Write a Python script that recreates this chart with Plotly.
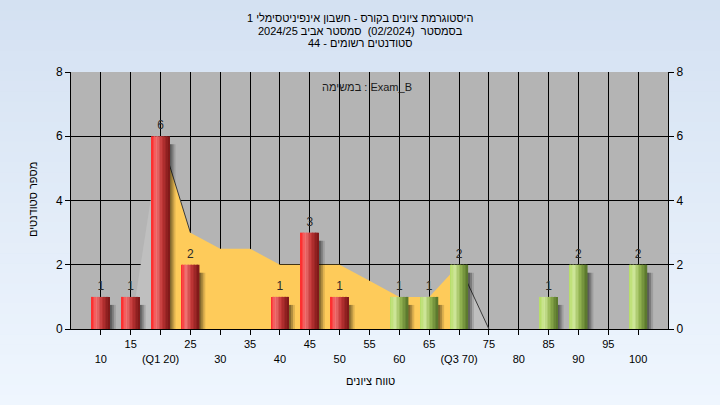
import plotly.graph_objects as go

# ---------------- data ----------------
scores = [10, 15, 20, 25, 30, 35, 40, 45, 50, 55, 60, 65, 70, 75, 80, 85, 90, 95, 100]
counts = [1, 1, 6, 2, 0, 0, 1, 3, 1, 0, 1, 1, 2, 0, 0, 1, 2, 0, 2]
curve = [0, 0, 6, 3, 2.5, 2.5, 2, 2, 2, 1.5, 1, 1, 2, 0, 0, 0, 0, 0, 0]
tick_labels = ["10", "15", "(Q1 20)", "25", "30", "35", "40", "45", "50", "55",
               "60", "65", "(Q3 70)", "75", "80", "85", "90", "95", "100"]
pass_mark = 55

title_lines = [
    "היסטוגרמת ציונים בקורס - חשבון אינפיניטסימלי 1",
    "בסמסטר  (02/2024)  סמסטר אביב 2024/25",
    "סטודנטים רשומים - 44",
]
task_label = "במשימה : Exam_B"
x_title = "טווח ציונים"
y_title = "מספר סטודנטים"

FONT = "Liberation Sans, Arial, DejaVu Sans, sans-serif"

# ---------------- helpers ----------------
def hex2rgb(h):
    h = h.lstrip("#")
    return tuple(int(h[i:i + 2], 16) for i in (0, 2, 4))

def grad(stops, f):
    for (f0, c0), (f1, c1) in zip(stops[:-1], stops[1:]):
        if f0 <= f <= f1:
            t = (f - f0) / (f1 - f0) if f1 > f0 else 0
            a, b = hex2rgb(c0), hex2rgb(c1)
            return "rgb(%d,%d,%d)" % tuple(round(a[k] + (b[k] - a[k]) * t) for k in range(3))
    return stops[-1][1]

red_stops = [(0, "#ff2424"), (0.28, "#f07272"), (0.6, "#c03636"), (1, "#7a1616")]
green_stops = [(0, "#b4dc62"), (0.28, "#cfe79a"), (0.6, "#93b451"), (1, "#56732a")]

fig = go.Figure()

# ---------------- area (distribution curve) on the base y axis ----------------
fig.add_trace(go.Scatter(x=scores[1:3], y=curve[1:3], mode="lines", fill="tozeroy",
                         fillcolor="#bfbfbf", line=dict(width=0), hoverinfo="skip"))
fig.add_trace(go.Scatter(x=scores[12:14], y=curve[12:14], mode="lines", fill="tozeroy",
                         fillcolor="#bfbfbf", line=dict(width=0), hoverinfo="skip"))
fig.add_trace(go.Scatter(x=scores[2:13], y=curve[2:13], mode="lines", fill="tozeroy",
                         fillcolor="#fecb5a", line=dict(width=0), hoverinfo="skip"))
fig.add_trace(go.Scatter(x=scores[2:4], y=curve[2:4], mode="lines",
                         line=dict(color="#3a3a3a", width=1), hoverinfo="skip"))
fig.add_trace(go.Scatter(x=scores[12:14], y=curve[12:14], mode="lines",
                         line=dict(color="#3a3a3a", width=1), hoverinfo="skip"))

# ---------------- bars on the overlaying (right) axis, drawn above the area ----------------
W = 3.0          # bar width in score units
N = 12           # gradient slices
unit_px = 597 / 100.0

shadow_y = [max(v - 0.25, 0) for v in counts]
for off_px, alpha in [(6, 0.12), (4, 0.22), (2, 0.25)]:
    fig.add_trace(go.Bar(x=scores, y=shadow_y, width=W, offset=-W / 2 + off_px / unit_px,
                         yaxis="y2",
                         marker=dict(color="rgba(0,0,0,%.2f)" % alpha, line=dict(width=0)),
                         hoverinfo="skip"))

for i in range(N):
    f = (i + 0.5) / N
    cols = [grad(green_stops if s >= pass_mark else red_stops, f) for s in scores]
    fig.add_trace(go.Bar(x=scores, y=counts, width=W / N + 0.02, offset=-W / 2 + i * W / N,
                         yaxis="y2",
                         marker=dict(color=cols, line=dict(width=0)), hoverinfo="skip"))

# bar value labels
lab_x = [s for s, c in zip(scores, counts) if c > 0]
lab_y = [c for c in counts if c > 0]
fig.add_trace(go.Scatter(x=lab_x, y=lab_y, mode="markers+text", text=[str(c) for c in lab_y],
                         textposition="top center", yaxis="y2",
                         marker=dict(size=5, opacity=0),
                         textfont=dict(family=FONT, size=12, color="#2a2a2a"),
                         hoverinfo="skip"))

# ---------------- background ----------------
shapes = []
top_c, bot_c = "#d4e1f2", "#eff6fe"
STRIPS = 40
fig_h = 405
for k in range(STRIPS):
    py0 = k * fig_h / STRIPS
    py1 = (k + 1) * fig_h / STRIPS + 0.5
    col = grad([(0, top_c), (1, bot_c)], (k + 0.5) / STRIPS)
    shapes.append(dict(type="rect", xref="paper", yref="paper",
                       x0=-71 / 597, x1=(720 - 71) / 597,
                       y0=(329 - py1) / 257, y1=(329 - py0) / 257,
                       fillcolor=col, line=dict(width=0), layer="below"))
shapes.append(dict(type="rect", xref="paper", yref="paper", x0=0, x1=1, y0=0, y1=1,
                   fillcolor="#b4b4b4", line=dict(width=0), layer="below"))

ticktext = [("<br>" + t) if i % 2 == 0 else t for i, t in enumerate(tick_labels)]

def py(p):
    return (329 - p) / 257

def px(p):
    return (p - 71) / 597

annotations = []
for t, yy in zip(title_lines, [17.5, 30.7, 43.3]):
    annotations.append(dict(text=t, x=px(360), y=py(yy), xref="paper", yref="paper",
                            showarrow=False, xanchor="center", yanchor="middle",
                            font=dict(family=FONT, size=11, color="#000")))
annotations.append(dict(text=task_label, x=px(367), y=py(86.5), xref="paper", yref="paper",
                        showarrow=False, xanchor="center", yanchor="middle",
                        font=dict(family=FONT, size=11, color="#1a1a1a")))
annotations.append(dict(text=x_title, x=px(370), y=py(381), xref="paper", yref="paper",
                        showarrow=False, xanchor="center", yanchor="middle",
                        font=dict(family=FONT, size=11, color="#000")))
annotations.append(dict(text=y_title, x=px(33), y=py(200), xref="paper", yref="paper",
                        showarrow=False, xanchor="center", yanchor="middle", textangle=-90,
                        font=dict(family=FONT, size=11, color="#000")))

fig.update_layout(
    width=720, height=405,
    margin=dict(l=71, r=52, t=72, b=76, autoexpand=False),
    paper_bgcolor=top_c, plot_bgcolor="rgba(0,0,0,0)",
    barmode="overlay", showlegend=False,
    font=dict(family=FONT, size=12, color="#000"),
    shapes=shapes, annotations=annotations,
    xaxis=dict(range=[5, 105], tickmode="array", tickvals=scores, ticktext=ticktext,
               showgrid=True, gridcolor="#000", gridwidth=1, zeroline=False,
               showline=True, linecolor="#000", linewidth=1, automargin=False,
               ticks="outside", ticklen=5, tickcolor="#000",
               tickfont=dict(family=FONT, size=11, color="#000")),
    yaxis=dict(range=[0, 8], dtick=2, showgrid=True, gridcolor="#000", gridwidth=1,
               zeroline=False, showline=True, linecolor="#000", linewidth=1, automargin=False,
               ticks="outside", ticklen=5, tickcolor="#000",
               tickfont=dict(family=FONT, size=12, color="#000")),
    yaxis2=dict(range=[0, 8], dtick=2, overlaying="y", side="right", showgrid=False,
                zeroline=False, showline=True, linecolor="#000", linewidth=1, automargin=False,
                ticks="outside", ticklen=5, tickcolor="#000",
                tickfont=dict(family=FONT, size=12, color="#000")),
)

fig.write_html("out.html", config={"displayModeBar": False},
               post_script="document.body.style.margin='0';document.body.style.overflow='hidden';")
